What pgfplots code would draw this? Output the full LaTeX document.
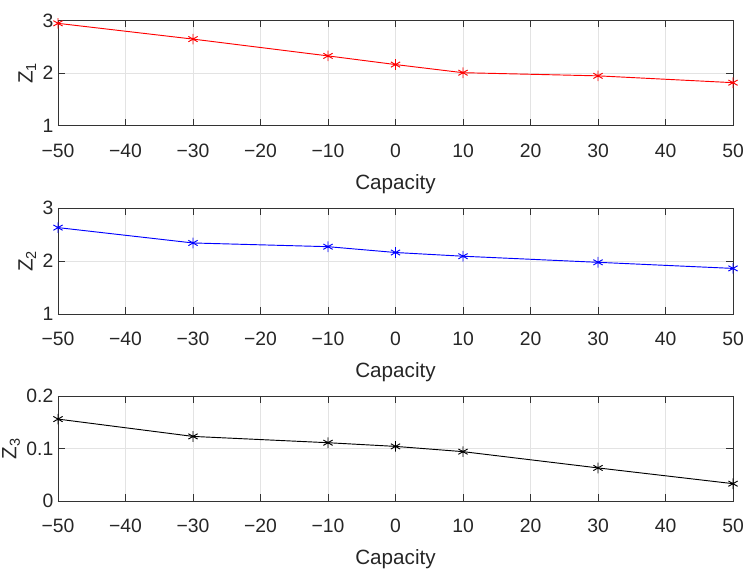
\documentclass[border=0pt]{standalone}
\usepackage{pgfplots}
\pgfplotsset{compat=1.18}
\usepackage{fontspec}
\setmainfont{Liberation Sans}
\begin{document}
\begin{tikzpicture}
\path[use as bounding box] (0pt,0pt) rectangle (562.5pt,432.75pt);
\pgfplotsset{
  every axis/.append style={
    scale only axis,
    width=506.25pt,
    xmin=-50, xmax=50,
    xtick={-50,-40,-30,-20,-10,0,10,20,30,40,50},
    xticklabels={−50,−40,−30,−20,−10,0,10,20,30,40,50},
    tick align=inside,
    tick pos=both,
    major tick length=5pt,
    grid=major,
    major grid style={gray!22, line width=0.5pt},
    axis line style={black!80, line width=0.6pt},
    tick style={black!80, line width=0.6pt},
    ticklabel style={font=\fontsize{14.5}{16}\selectfont, text=black!85},
    label style={font=\fontsize{15.5}{17}\selectfont, text=black!85},
    /pgf/number format/assume math mode=true,
    xlabel={Capacity},
    xticklabel style={yshift=-10pt},
    xlabel style={yshift=-6pt},
    ylabel style={yshift=-2pt},
  },
  mystyle/.style={line width=0.7pt, mark=asterisk, mark size=4pt, mark options={line width=0.7pt}},
}
\begin{axis}[anchor=north west, at={(43.5pt,417.2pt)}, height=78.75pt, ymin=1, ymax=3, ytick={1,2,3}, ylabel={Z\textsubscript{1}}]
\addplot[red, mystyle] coordinates {(-50,2.95) (-30,2.65) (-10,2.33) (0,2.165) (10,2.01) (30,1.95) (50,1.82)};
\end{axis}
\begin{axis}[anchor=north west, at={(43.5pt,276.75pt)}, height=79.5pt, ymin=1, ymax=3, ytick={1,2,3}, ylabel={Z\textsubscript{2}}]
\addplot[blue, mystyle] coordinates {(-50,2.63) (-30,2.34) (-10,2.27) (0,2.16) (10,2.09) (30,1.975) (50,1.86)};
\end{axis}
\begin{axis}[anchor=north west, at={(43.5pt,135.75pt)}, height=78.75pt, ymin=0, ymax=0.2, ytick={0,0.1,0.2}, yticklabels={0,0.1,0.2}, ylabel={Z\textsubscript{3}}]
\addplot[black, mystyle] coordinates {(-50,0.156) (-30,0.123) (-10,0.111) (0,0.104) (10,0.094) (30,0.063) (50,0.033)};
\end{axis}
\end{tikzpicture}
\end{document}
